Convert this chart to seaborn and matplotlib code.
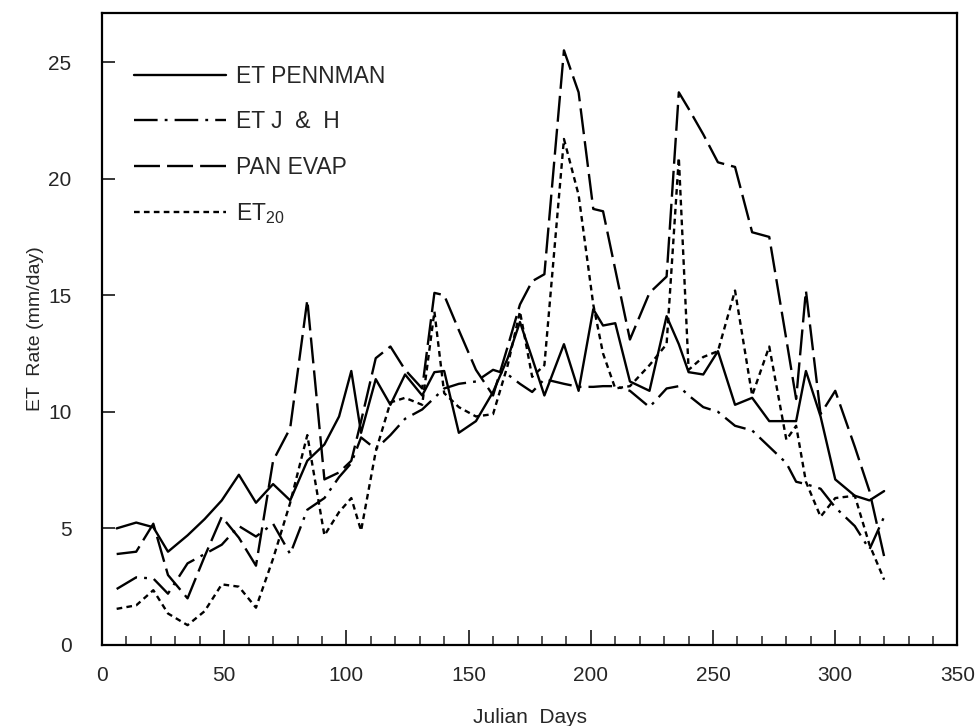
import matplotlib
matplotlib.use("Agg")
import matplotlib.pyplot as plt
from matplotlib.ticker import MultipleLocator
import seaborn as sns
import pandas as pd

# ---------------- data ----------------
days = [6, 14, 21, 27, 35, 42, 49, 56, 63, 70, 77, 84, 91, 97, 102, 106, 112, 118, 124, 131,
        136, 140, 146, 153, 160, 166, 171, 176, 181, 189, 195, 201, 205, 210, 216, 224, 231, 236,
        240, 246, 252, 259, 266, 273, 280, 284, 288, 294, 300, 308, 314, 320]

et_penman = [5.0, 5.25, 5.05, 4.0, 4.7, 5.4, 6.2, 7.3, 6.1, 6.9, 6.2, 7.9, 8.6, 9.8, 11.75, 9.1,
             11.4, 10.3, 11.6, 10.7, 11.7, 11.75, 9.1, 9.6, 10.85, 12.3, 13.85, 12.3, 10.7, 12.9,
             10.9, 14.4, 13.7, 13.8, 11.3, 10.9, 14.1, 12.9, 11.7, 11.6, 12.6, 10.3, 10.6, 9.6,
             9.6, 9.6, 11.75, 9.8, 7.1, 6.4, 6.2, 6.6]

et_jh = [2.4, 2.9, 2.85, 2.2, 3.5, 3.9, 4.3, 5.1, 4.65, 5.2, 3.9, 5.8, 6.3, 7.2, 7.8, 8.9,
         8.4, 9.0, 9.7, 10.1, 10.6, 11.0, 11.2, 11.3, 11.8, 11.6, 11.2, 10.85, 11.4, 11.2,
         11.07, 11.07, 11.1, 11.1, 10.9, 10.2, 11.0, 11.1, 10.7, 10.2, 10.0, 9.4, 9.2, 8.5,
         7.8, 7.0, 6.9, 6.7, 5.9, 5.1, 4.1, 5.5]

pan_evap = [3.9, 4.0, 5.2, 3.0, 2.0, 3.8, 5.5, 4.6, 3.4, 7.9, 9.3, 14.8, 7.1, 7.4, 7.9, 9.6,
            12.3, 12.8, 11.8, 11.0, 15.1, 15.0, 13.5, 11.8, 10.7, 12.8, 14.6, 15.6, 15.9, 25.5,
            23.7, 18.7, 18.6, 16.1, 13.1, 15.1, 15.8, 23.7, 23.0, 21.9, 20.7, 20.5, 17.7, 17.5,
            13.1, 10.55, 15.2, 9.9, 10.9, 8.5, 6.6, 3.8]

et_20 = [1.55, 1.7, 2.35, 1.35, 0.85, 1.45, 2.6, 2.5, 1.6, 3.7, 6.1, 9.0, 4.7, 5.7, 6.3, 4.9,
         8.3, 10.4, 10.6, 10.3, 14.3, 10.8, 10.2, 9.8, 9.9, 12.0, 14.3, 11.5, 12.0, 21.7,
         19.3, 14.6, 12.5, 11.0, 11.1, 12.0, 12.9, 20.9, 11.8, 12.35, 12.6, 15.2, 10.7, 12.8,
         8.8, 9.4, 7.0, 5.5, 6.3, 6.4, 4.3, 2.8]

series_names = ["ET PENNMAN", "ET J & H", "PAN EVAP", "ET20"]
legend_labels = ["ET PENNMAN", "ET J  &  H", "PAN EVAP", r"ET$_{\mathregular{20}}$"]

x_ticks = [0, 50, 100, 150, 200, 250, 300, 350]
y_ticks = [0, 5, 10, 15, 20, 25]

# ---------------- build table ----------------
frames = []
for name, vals in zip(series_names, [et_penman, et_jh, pan_evap, et_20]):
    frames.append(pd.DataFrame({"day": days, "rate": vals, "series": name}))
df = pd.concat(frames, ignore_index=True)

sns.set_theme(style="ticks")
plt.rcParams["font.family"] = ["Liberation Sans", "DejaVu Sans"]
plt.rcParams["mathtext.fontset"] = "custom"
plt.rcParams["mathtext.rm"] = "Liberation Sans"

fig = plt.figure(figsize=(9.76, 7.26), dpi=100)
ax = fig.add_axes([0.1045, 0.1116, 0.8765, 0.8704])

dash_map = {
    "ET PENNMAN": "",
    "ET J & H": (10, 3, 1.2, 3),
    "PAN EVAP": (11, 3),
    "ET20": (2.4, 1.8),
}

sns.lineplot(data=df, x="day", y="rate", style="series", style_order=series_names,
             dashes=dash_map, color="black", linewidth=1.7, sort=False,
             legend=False, ax=ax)

ax.set_xlim(0, 350)
ax.set_ylim(0, 27.1)
ax.set_xticks(x_ticks)
ax.set_yticks(y_ticks)
ax.xaxis.set_minor_locator(MultipleLocator(10))

ax.tick_params(axis="x", which="major", direction="in", length=11, width=1.3,
               labelsize=15, pad=15, top=False)
ax.tick_params(axis="x", which="minor", direction="in", length=6.5, width=1.1, top=False)
ax.tick_params(axis="y", which="major", direction="in", length=9, width=1.3,
               labelsize=15, pad=22, right=False)

for sp in ax.spines.values():
    sp.set_visible(True)
    sp.set_linewidth(1.6)
    sp.set_color("black")

ax.set_xlabel("Julian  Days", fontsize=15, labelpad=17)
ax.set_ylabel("ET  Rate (mm/day)", fontsize=14, labelpad=3)

handles = ax.get_lines()[:4]
ax.legend(handles=handles, labels=legend_labels, loc="upper left",
          bbox_to_anchor=(0.038, 0.918), frameon=False, fontsize=16.5,
          handlelength=4.0, handletextpad=0.45, labelspacing=0.98,
          borderpad=0, borderaxespad=0)

fig.savefig("out.png", dpi=100, facecolor="white")
